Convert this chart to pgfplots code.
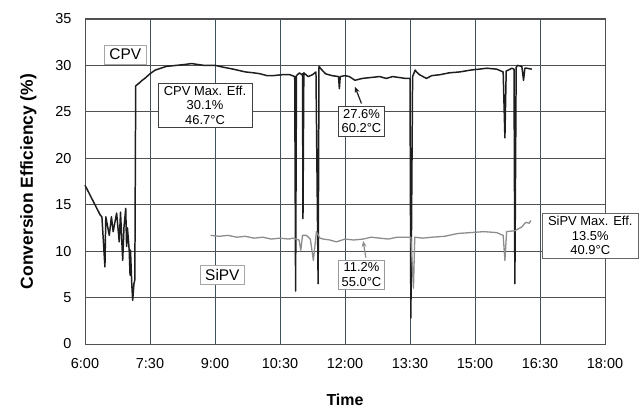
\documentclass[border=0pt]{standalone}
\usepackage{fontspec}
\setmainfont{Liberation Sans}
\usepackage{pgfplots}
\pgfplotsset{compat=1.18}
\usetikzlibrary{arrows.meta}
\definecolor{cCPV}{HTML}{1E1E1E}
\definecolor{cSi}{HTML}{8C8C8C}
\definecolor{vGrid}{HTML}{3E505C}
\definecolor{hGrid}{HTML}{505050}

\begin{document}
\begin{tikzpicture}
\begin{axis}[
  at={(0,0)}, anchor=south west,
  scale only axis, width=520bp, height=325bp,
  xmin=6, xmax=18, ymin=0, ymax=35,
  xtick={6,7.5,9,10.5,12,13.5,15,16.5,18},
  xticklabels={6:00,7:30,9:00,10:30,12:00,13:30,15:00,16:30,18:00},
  ytick={0,5,10,15,20,25,30,35},
  major tick length=0pt,
  xmajorgrids, ymajorgrids,
  x grid style={vGrid, line width=0.8pt},
  y grid style={hGrid, line width=0.8pt},
  axis line style={hGrid, line width=1pt},
  tick label style={font=\fontsize{14.5}{16}\selectfont},
  xticklabel style={yshift=-11bp},
  yticklabel style={xshift=-10bp},
  /pgf/number format/assume math mode=true,
  xlabel={Time}, ylabel={Conversion Efficiency (\%)},
  xlabel style={font=\fontsize{16}{18}\selectfont\bfseries, yshift=-18bp},
  ylabel style={font=\fontsize{17.5}{19}\selectfont\bfseries, yshift=12bp},
  clip=false,
]
% CPV
\addplot[cCPV, line width=1.5pt, line join=round] coordinates {
(6.00,17.1) (6.35,13.9) (6.39,13.7) (6.46,8.3) (6.48,13.7) (6.56,11.7) (6.61,13.7)
(6.65,12.1) (6.73,14.1) (6.79,11.0) (6.82,14.2) (6.87,9.0) (6.90,12.6) (6.94,14.6)
(6.96,10.5) (6.98,12.5) (7.02,10.1) (7.04,7.4) (7.05,10.1) (7.08,6.4) (7.10,4.7)
(7.13,6.5) (7.15,6.9) (7.17,27.8) (7.25,28.1) (7.32,28.4) (7.38,28.6) (7.50,29.1)
(7.62,29.5) (7.75,29.7) (7.88,29.9) (8.10,30.0) (8.30,30.1) (8.46,30.2) (8.75,30.0)
(9.01,30.0) (9.20,29.8) (9.42,29.6) (9.70,29.3) (9.90,29.2) (10.04,29.1) (10.20,28.9)
(10.34,28.9) (10.55,29.0) (10.73,29.0) (10.84,28.8) (10.86,5.7) (10.88,28.9)
(10.95,29.2) (11.00,29.0) (11.02,29.1) (11.03,13.5) (11.05,29.2) (11.15,28.8)
(11.25,29.0) (11.33,29.3) (11.38,6.5) (11.40,29.9) (11.45,29.6) (11.55,29.1)
(11.70,28.9) (11.85,28.8) (11.87,27.5) (11.89,28.8) (12.00,28.9) (12.10,28.8)
(12.23,28.4) (12.40,28.6) (12.60,28.7) (12.80,28.8) (12.95,28.6) (13.10,28.8)
(13.25,28.7) (13.40,28.6) (13.50,28.6) (13.52,2.8) (13.56,28.8) (13.62,29.5)
(13.65,29.3) (13.72,29.0) (13.88,28.6) (14.00,28.9) (14.19,29.0) (14.40,29.2)
(14.65,29.3) (14.90,29.5) (15.10,29.6) (15.27,29.7) (15.50,29.6) (15.65,29.3)
(15.69,22.2) (15.72,29.4) (15.77,29.5) (15.85,29.7) (15.90,29.6) (15.92,6.5)
(15.95,29.8) (15.98,30.0) (16.08,29.9) (16.12,28.4) (16.15,29.7) (16.19,29.7)
(16.31,29.6)
};
% SiPV
\addplot[cSi, line width=1.3pt, line join=round] coordinates {
(8.90,11.7) (9.10,11.6) (9.30,11.7) (9.50,11.5) (9.70,11.6) (9.90,11.4) (10.10,11.5)
(10.30,11.3) (10.50,11.4) (10.70,11.3) (10.80,11.4) (10.94,11.2) (10.98,10.1)
(11.02,11.7) (11.11,11.7) (11.20,11.3) (11.27,9.0) (11.34,12.1) (11.42,11.4)
(11.50,11.3) (11.65,11.2) (11.80,11.0) (12.00,11.3) (12.20,11.2) (12.42,11.3)
(12.60,11.5) (12.80,11.4) (13.00,11.3) (13.20,11.5) (13.40,11.5) (13.52,11.5)
(13.58,6.0) (13.61,11.5) (13.80,11.4) (14.00,11.5) (14.30,11.6) (14.60,11.9)
(14.90,12.0) (15.20,12.1) (15.50,12.0) (15.65,11.7) (15.69,9.0) (15.73,12.1)
(15.92,12.2) (16.08,12.6) (16.15,13.0) (16.19,13.1) (16.25,13.0) (16.29,13.3)
};
% labels
\node[draw=gray!70, fill=white, font=\fontsize{15.5}{17}\selectfont,
  inner xsep=5bp, inner ysep=4bp] at (axis cs:6.93,31.2) {CPV};
\node[draw=gray!70, fill=white, font=\fontsize{15.5}{17}\selectfont,
  inner xsep=5bp, inner ysep=4bp] at (axis cs:9.17,7.43) {SiPV};
\node[draw=black!75, fill=white, align=center, font=\fontsize{13}{14.5}\selectfont,
  inner xsep=6bp, inner ysep=3bp] at (axis cs:8.77,25.7) {CPV Max. Eff.\\30.1\%\\46.7°C};
\node[draw=black!75, fill=white, align=center, font=\fontsize{13}{14.5}\selectfont,
  inner xsep=3bp, inner ysep=3bp] at (axis cs:12.38,24.0) {27.6\%\\60.2°C};
\node[draw=gray!80, fill=white, align=center, font=\fontsize{13}{14.5}\selectfont,
  inner xsep=3bp, inner ysep=3bp] at (axis cs:12.38,7.48) {11.2\%\\55.0°C};
\node[draw=black!60, fill=white, align=center, font=\fontsize{13}{14.5}\selectfont,
  inner xsep=6bp, inner ysep=3bp] at (axis cs:17.66,11.66) {SiPV Max. Eff.\\13.5\%\\40.9°C};
\draw[cCPV, line width=1.2pt, -{Stealth[length=6bp,width=5bp]}] (axis cs:12.38,25.9) -- (axis cs:12.23,27.7);
\draw[cSi, line width=1.2pt, -{Stealth[length=6bp,width=5bp]}] (axis cs:12.48,9.3) -- (axis cs:12.42,11.1);
\end{axis}
\pgfresetboundingbox
\path[use as bounding box] (-85bp,-67bp) rectangle (558bp,344bp);
\end{tikzpicture}
\end{document}
